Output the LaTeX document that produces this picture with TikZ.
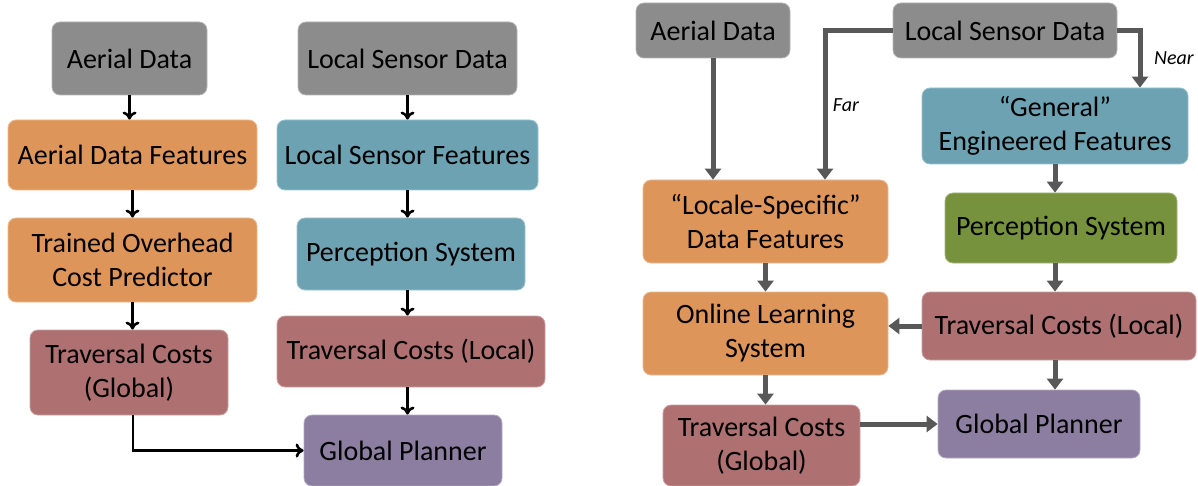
\documentclass[tikz,border=0pt]{standalone}
\usepackage{fontspec}
\setmainfont{Carlito}
\usetikzlibrary{arrows.meta}
\definecolor{boxgray}{RGB}{140,140,140}
\definecolor{boxorange}{RGB}{222,149,90}
\definecolor{boxblue}{RGB}{108,162,178}
\definecolor{boxred}{RGB}{174,112,112}
\definecolor{boxpurple}{RGB}{140,126,160}
\definecolor{boxgreen}{RGB}{118,146,60}
\definecolor{linkgray}{RGB}{88,88,88}

\begin{document}
\begin{tikzpicture}[
    x=1pt, y=-1pt,
    box/.style={rounded corners=8pt, align=center, inner sep=0pt, fill=#1, draw=#1!65!white, line width=0.8pt, font=\fontsize{28}{34}\selectfont},
    dims/.style 2 args={minimum width=#1pt, minimum height=#2pt},
    tag/.style={font=\itshape\fontsize{20}{22}\selectfont},
    thinarrow/.style={-{To[length=8pt,width=14pt,line width=2.6pt]}, line width=2.6pt, draw=black},
    fatarrow/.style={-{Triangle[length=11pt,width=16pt]}, line width=5pt, draw=linkgray}
]
\useasboundingbox (0,0) rectangle (1198,486);

% left: offline pipeline
\node[box=boxgray, dims={155}{73}] (ad1) at (129.5,58.5) {Aerial Data};
\node[box=boxgray, dims={219}{73}] (lsd1) at (407.5,58.5) {Local Sensor Data};
\node[box=boxorange, dims={249}{70}] (adf) at (132.5,155) {Aerial Data Features};
\node[box=boxblue, dims={261}{70}] (lsf) at (407.5,155) {Local Sensor Features};
\node[box=boxorange, dims={249}{84}] (top) at (132.5,260) {Trained Overhead\\Cost Predictor};
\node[box=boxblue, dims={228}{72}] (ps1) at (411,254) {Perception System};
\node[box=boxred, dims={198}{85}] (tcg1) at (129,372.5) {Traversal Costs\\(Global)};
\node[box=boxred, dims={268}{71}] (tcl1) at (411,351.5) {Traversal Costs (Local)};
\node[box=boxpurple, dims={198}{71}] (gp1) at (403,450.5) {Global Planner};

\draw[thinarrow] (ad1.south) -- (ad1.south |- adf.north);
\draw[thinarrow] (adf) -- (top);
\draw[thinarrow] (top.south) -- (top.south |- tcg1.north);
\draw[thinarrow] (lsd1.south) -- (lsd1.south |- lsf.north);
\draw[thinarrow] (lsd1.south |- lsf.south) -- (lsd1.south |- ps1.north);
\draw[thinarrow] (lsd1.south |- ps1.south) -- (lsd1.south |- tcl1.north);
\draw[thinarrow] (lsd1.south |- tcl1.south) -- (lsd1.south |- gp1.north);
\draw[thinarrow] ([xshift=4pt]tcg1.south) |- (gp1.west);

% right: online learning pipeline
\node[box=boxgray, dims={154}{55}] (ad2) at (713,30.5) {Aerial Data};
\node[box=boxgray, dims={224}{55}] (lsd2) at (1005,30.5) {Local Sensor Data};
\node[box=boxorange, dims={245}{83}] (lsdf) at (765.5,221.5) {“Locale-Specific”\\Data Features};
\node[box=boxblue, dims={266}{76}] (gef) at (1055,126) {“General”\\Engineered Features};
\node[box=boxgreen, dims={232}{70}] (ps2) at (1061,228) {Perception System};
\node[box=boxorange, dims={245}{83}] (ols) at (765.5,333.5) {Online Learning\\System};
\node[box=boxred, dims={274}{68}] (tcl2) at (1059,326) {Traversal Costs (Local)};
\node[box=boxpurple, dims={202}{68}] (gp2) at (1039,424) {Global Planner};
\node[box=boxred, dims={197}{81}] (tcg2) at (761.5,445.5) {Traversal Costs\\(Global)};

\node[tag] (far) at (846,105) {Far};
\node[tag] (near) at (1174,58) {Near};

\draw[fatarrow] (ad2.south) -- (ad2.south |- lsdf.north);
\draw[fatarrow] (lsd2.west) -| ([xshift=59.5pt]lsdf.north);
\draw[fatarrow] (lsd2.east) -| ([xshift=85pt]gef.north);
\draw[fatarrow] (gef.south) -- (gef.south |- ps2.north);
\draw[fatarrow] (gef.south |- ps2.south) -- (gef.south |- tcl2.north);
\draw[fatarrow] (gef.south |- tcl2.south) -- (gef.south |- gp2.north);
\draw[fatarrow] (tcl2.west) -- (tcl2.west -| ols.east);
\draw[fatarrow] (lsdf) -- (ols);
\draw[fatarrow] (ols.south) -- (ols.south |- tcg2.north);
\draw[fatarrow] (tcg2.east |- gp2.west) -- (gp2.west);

\end{tikzpicture}
\end{document}
